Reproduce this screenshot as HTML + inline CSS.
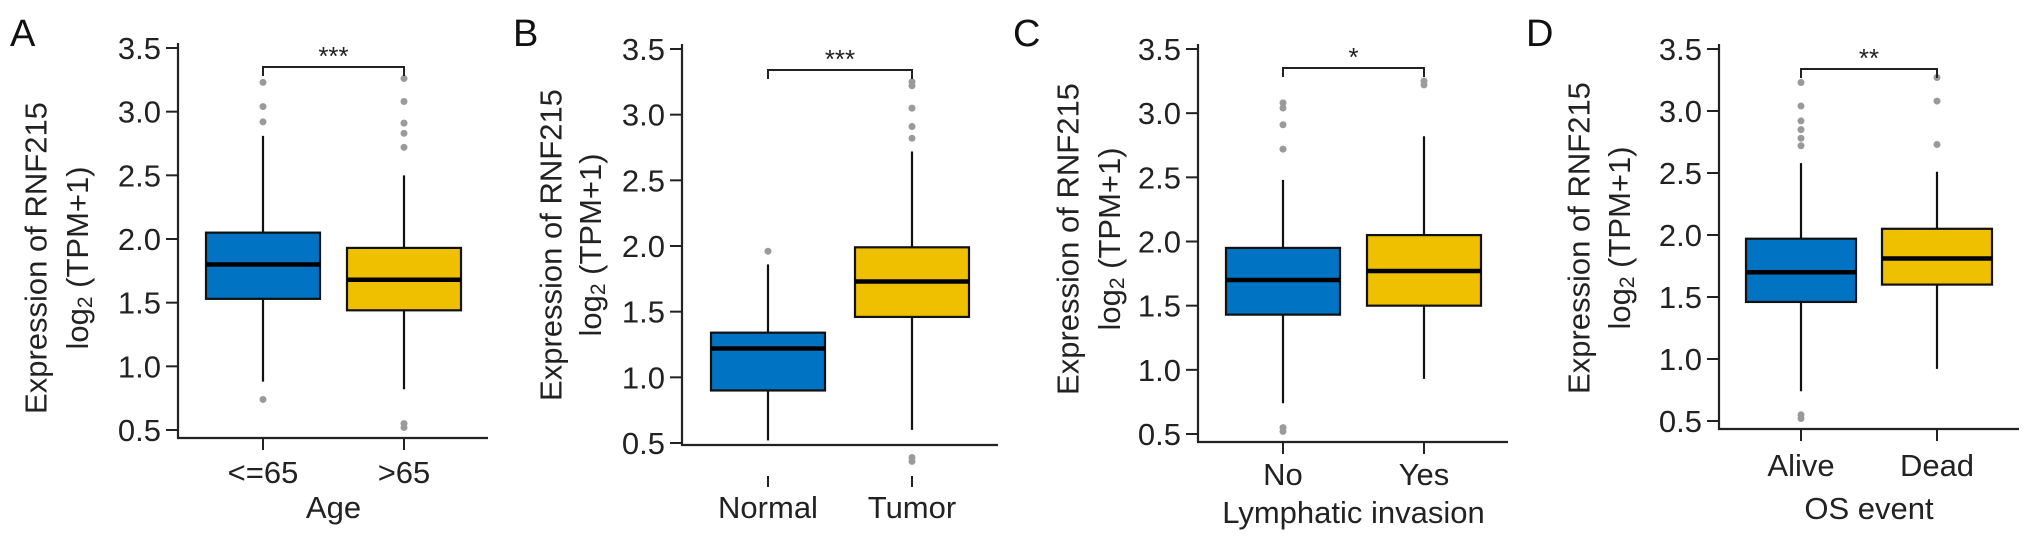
<!DOCTYPE html>
<html><head><meta charset="utf-8"><style>
html,body{margin:0;padding:0;background:#fff;}
svg{display:block;font-family:"Liberation Sans",Arial,sans-serif;}
</style></head><body>
<svg id="fig" width="2032" height="539" viewBox="0 0 2032 539" xmlns="http://www.w3.org/2000/svg"></svg>
<script>
// ---- data ----
const panelLetters = ["A","B","C","D"];
const categories = [["<=65",">65"],["Normal","Tumor"],["No","Yes"],["Alive","Dead"]];
const xTitles = ["Age","","Lymphatic invasion","OS event"];
const sigLabels = ["***","***","*","**"];
const yTicks = [0.5,1.0,1.5,2.0,2.5,3.0,3.5];
const yTickLabels = ["0.5","1.0","1.5","2.0","2.5","3.0","3.5"];
// [group1, group2] per panel
const q1Values = [[1.53,1.44],[0.90,1.46],[1.43,1.50],[1.46,1.60]];
const medianValues = [[1.80,1.68],[1.22,1.73],[1.70,1.77],[1.70,1.81]];
const q3Values = [[2.05,1.93],[1.34,1.99],[1.95,2.05],[1.97,2.05]];
const whiskerLow = [[0.88,0.82],[0.52,0.60],[0.74,0.93],[0.74,0.92]];
const whiskerHigh = [[2.81,2.50],[1.86,2.72],[2.48,2.82],[2.58,2.51]];
const outliers = [
  [[0.74,2.92,3.04,3.23],[0.52,0.55,2.72,2.83,2.91,3.08,3.26]],
  [[1.96],[0.36,0.39,2.82,2.91,3.05,3.22,3.25]],
  [[0.52,0.55,2.72,2.91,3.04,3.08],[3.22,3.25]],
  [[0.52,0.55,2.72,2.78,2.85,2.92,3.04,3.23],[2.73,3.08,3.27]]
];

// ---- layout (pixels) ----
const layout = [
  {ax:178,y35:48,y05:430,axY:438,axEnd:488,cx:[263,404],hw:57,brY:67,labY:483,titY:518,tickTop:438,tickBot:450,letterX:10,t1x:36,t2x:77,tcy:258},
  {ax:682,y35:49,y05:443,axY:445,axEnd:998,cx:[768,912],hw:57,brY:70,labY:518,titY:0,tickTop:476,tickBot:487,letterX:513,t1x:551,t2x:590,tcy:245},
  {ax:1198,y35:49,y05:434,axY:442,axEnd:1508,cx:[1283,1424],hw:57,brY:68,labY:485,titY:523,tickTop:442,tickBot:454,letterX:1013,t1x:1068,t2x:1109,tcy:239},
  {ax:1719,y35:49,y05:421,axY:429,axEnd:2019,cx:[1801,1937],hw:55,brY:69,labY:476,titY:519,tickTop:429,tickBot:441,letterX:1526,t1x:1579,t2x:1619,tcy:238}
];
const fills = ["#0073C2","#EFC000"];
const NS = "http://www.w3.org/2000/svg";
const svg = document.getElementById("fig");
function mk(tag, attrs, parent, text){
  const e = document.createElementNS(NS, tag);
  for (const k in attrs) e.setAttribute(k, attrs[k]);
  if (text !== undefined) e.textContent = text;
  (parent||svg).appendChild(e);
  return e;
}

layout.forEach((L, p) => {
  const g = mk("g", {});
  
  
  const yScale = v => L.y05 + (v - 0.5) * (L.y35 - L.y05) / 3.0;

  const letter = mk("text", {x:L.letterX, y:46, "font-size":38, fill:"#111"}, g, panelLetters[p]);
  
  

  // y axis
  const yAxis = mk("line", {x1:L.ax, y1:L.y35-5, x2:L.ax, y2:L.axY+1, stroke:"#222", "stroke-width":2.2}, g);
  
  
  const xAxis = mk("line", {x1:L.ax-1, y1:L.axY, x2:L.axEnd, y2:L.axY, stroke:"#222", "stroke-width":2.2}, g);
  
  

  yTicks.forEach((v, i) => {
    const y = yScale(v);
    const t = mk("line", {x1:L.ax-12, y1:y, x2:L.ax, y2:y, stroke:"#222", "stroke-width":2}, g);
    
    
    const lb = mk("text", {x:L.ax-17, y:y+11, "font-size":31, "text-anchor":"end", fill:"#222"}, g, yTickLabels[i]);
    
    
  });

  // y title
  const t1 = mk("text", {transform:`translate(${L.t1x},${L.tcy}) rotate(-90)`, "text-anchor":"middle", "dominant-baseline":"central", "font-size":31, fill:"#222"}, g, "Expression of RNF215");
  
  
  const t2 = mk("text", {transform:`translate(${L.t2x},${L.tcy}) rotate(-90)`, "text-anchor":"middle", "dominant-baseline":"central", "font-size":31, fill:"#222"}, g);
  
  
  mk("tspan", {}, t2, "log");
  mk("tspan", {"font-size":21, dy:8}, t2, "2");
  mk("tspan", {dy:-8}, t2, " (TPM+1)");

  // boxes
  [0,1].forEach(k => {
    const cx = L.cx[k];
    const wl = mk("line", {x1:cx, y1:yScale(whiskerLow[p][k]), x2:cx, y2:yScale(whiskerHigh[p][k]), stroke:"#111", "stroke-width":2.2}, g);
    
    
    const yTop = yScale(q3Values[p][k]), yBot = yScale(q1Values[p][k]);
    const r = mk("rect", {x:cx-L.hw, y:yTop, width:2*L.hw, height:yBot-yTop, fill:fills[k], stroke:"#111", "stroke-width":2.2}, g);
    
    
    const ym = yScale(medianValues[p][k]);
    const m = mk("line", {x1:cx-L.hw, y1:ym, x2:cx+L.hw, y2:ym, stroke:"#000", "stroke-width":4.5}, g);
    
    
    outliers[p][k].forEach(v => {
      const c = mk("circle", {cx:cx, cy:yScale(v), r:3.5, fill:"#9a9a9a"}, g);
      
      
    });
    const xt = mk("line", {x1:cx, y1:L.tickTop, x2:cx, y2:L.tickBot, stroke:"#222", "stroke-width":2}, g);
    
    
    const xl = mk("text", {x:cx, y:L.labY, "font-size":31, "text-anchor":"middle", fill:"#222"}, g, categories[p][k]);
    
    
  });

  if (xTitles[p]) {
    const xt = mk("text", {x:(L.cx[0]+L.cx[1])/2, y:L.titY, "font-size":31, "text-anchor":"middle", fill:"#222"}, g, xTitles[p]);
    
    
  }

  // significance bracket
  const br = mk("path", {d:`M${L.cx[0]},${L.brY+9} V${L.brY} H${L.cx[1]} V${L.brY+9}`, fill:"none", stroke:"#222", "stroke-width":2}, g);
  
  
  const st = mk("text", {x:(L.cx[0]+L.cx[1])/2, y:L.brY-2, "font-size":26, "text-anchor":"middle", fill:"#222"}, g, sigLabels[p]);
  
  
});
</script>
</body></html>
